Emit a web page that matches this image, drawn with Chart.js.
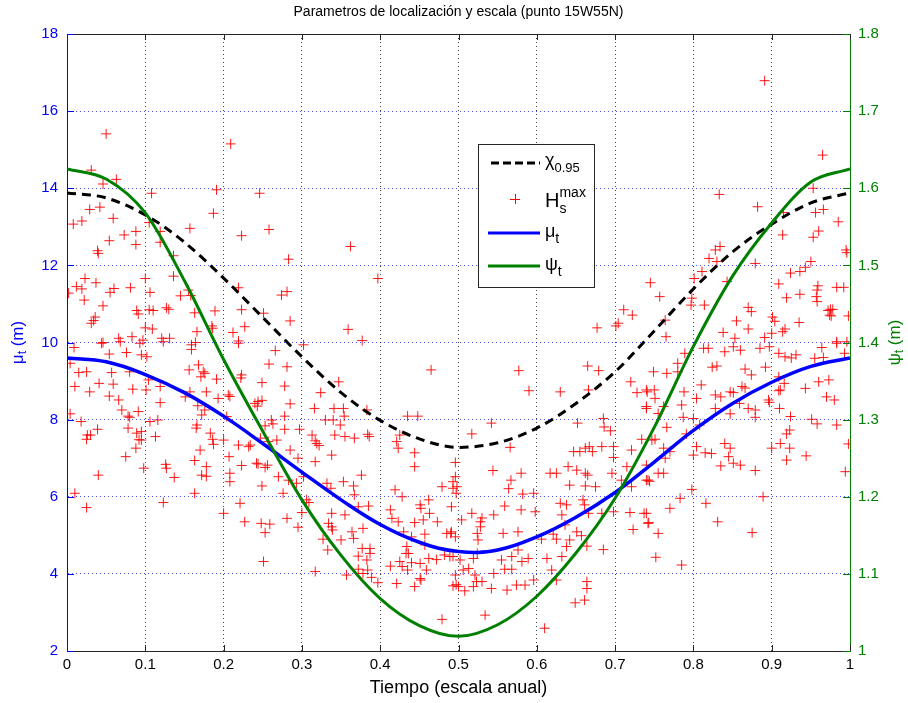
<!DOCTYPE html>
<html>
<head>
<meta charset="utf-8">
<script src="https://cdn.jsdelivr.net/npm/chart.js@4"></script>
<style>
  body { margin: 0; background: #fff; }
</style>
</head>
<body>
<canvas id="grafico" width="908" height="703"></canvas>
<script>
// ========== DATOS ==========

// eje temporal de las curvas (escala anual)
const tiempo = [0, 0.05, 0.1, 0.15, 0.2, 0.25, 0.3, 0.35, 0.4, 0.45, 0.5,
                0.55, 0.6, 0.65, 0.7, 0.75, 0.8, 0.85, 0.9, 0.95, 1];

// cuantil 0.95 (m)
const chi095 = [13.88, 13.75, 13.31, 12.60, 11.67, 10.65, 9.63, 8.70, 7.98, 7.50, 7.28,
                7.40, 7.78, 8.42, 9.24, 10.30, 11.39, 12.35, 13.07, 13.62, 13.88];

// parametro de localizacion mu_t (m)
const muT = [9.60, 9.50, 9.17, 8.70, 8.09, 7.38, 6.64, 5.92, 5.28, 4.82, 4.58,
             4.62, 4.96, 5.47, 6.11, 6.90, 7.72, 8.42, 8.97, 9.38, 9.60];

// parametro de escala psi_t (m)
const psiT = [1.625, 1.612, 1.568, 1.480, 1.378, 1.285, 1.196, 1.124, 1.068, 1.033, 1.019,
              1.034, 1.071, 1.127, 1.198, 1.290, 1.395, 1.486, 1.555, 1.608, 1.625];

// maximos mensuales Hs (tiempo, altura)
const hsMax = [
  [0.050,15.41],[0.209,15.15],[0.031,14.47],[0.063,14.23],[0.046,14.11],[0.108,13.87],[0.191,13.96],[0.246,13.87],
  [0.029,13.45],[0.042,13.51],[0.187,13.35],[0.008,13.07],[0.019,13.15],[0.059,13.22],[0.105,13.11],[0.157,12.96],
  [0.223,12.77],[0.054,12.64],[0.073,12.79],[0.088,12.88],[0.088,12.54],[0.119,12.88],[0.119,12.60],[0.039,12.38],
  [0.040,12.31],[0.136,12.25],[0.023,11.66],[0.037,11.55],[0.100,11.66],[0.136,11.72],[0.012,11.45],[0.019,11.39],
  [0.002,11.28],[0.022,11.10],[0.055,11.30],[0.060,11.40],[0.081,11.42],[0.106,11.30],[0.145,11.21],[0.155,11.36],
  [0.158,11.22],[0.219,11.42],[0.046,10.95],[0.089,10.83],[0.091,10.74],[0.105,10.85],[0.110,10.83],[0.127,10.90],
  [0.130,10.86],[0.163,10.77],[0.189,10.82],[0.223,10.85],[0.036,10.66],[0.034,10.57],[0.031,10.50],[0.100,10.38],
  [0.109,10.35],[0.166,10.28],[0.185,10.43],[0.186,10.37],[0.212,10.26],[0.227,10.41],[0.046,10.00],[0.066,10.11],
  [0.083,10.15],[0.097,10.06],[0.121,10.11],[0.131,10.11],[0.164,10.00],[0.219,10.04],
  [0.258,12.93],[0.362,12.49],[0.283,12.16],[0.397,11.66],[0.281,11.32],[0.274,11.23],[0.251,10.76],[0.285,10.56],
  [0.359,10.34],[0.377,10.05],
  [0.677,10.38],[0.701,10.43],[0.704,10.50],[0.711,10.85],[0.722,10.71],[0.745,11.55],
  [0.891,16.79],[0.965,14.86],[0.833,13.84],[0.882,13.52],[0.915,13.37],[0.956,13.37],[0.966,13.45],[0.953,14.00],
  [0.985,13.13],[0.914,12.79],[0.953,12.73],[0.960,12.89],[0.834,12.49],[0.828,12.40],[0.820,12.18],[0.830,12.10],
  [0.879,12.05],[0.995,12.40],[0.996,12.33],[0.950,12.10],[0.943,11.95],[0.936,11.84],[0.924,11.80],[0.811,11.84],
  [0.801,11.66],[0.843,11.58],[0.909,11.52],[0.959,11.47],[0.958,11.36],[0.983,11.43],[0.992,11.43],[0.757,11.19],
  [0.798,11.15],[0.919,11.16],[0.936,11.25],[0.957,11.19],[0.958,11.06],[0.797,10.97],[0.814,10.97],[0.870,10.91],
  [0.874,10.80],[0.972,10.83],[0.975,10.86],[0.978,10.86],[0.974,10.71],[0.976,10.69],[0.998,10.69],[0.764,10.58],
  [0.855,10.56],[0.901,10.66],[0.904,10.55],[0.935,10.52],[0.870,10.35],[0.838,10.26],[0.765,10.15],[0.900,10.24],
  [0.914,10.28],[0.917,10.35],[0.853,10.11],[0.891,10.13],[0.983,10.02],[0.996,10.02],
  [0.009,9.87],[0.044,9.98],[0.068,10.02],[0.093,9.98],[0.095,9.68],[0.054,9.70],[0.076,9.74],[0.102,9.63],
  [0.123,10.02],[0.159,9.94],[0.159,9.82],[0.219,9.98],[0.004,9.46],[0.015,9.22],[0.025,9.24],[0.057,9.22],
  [0.080,9.24],[0.041,8.94],[0.059,8.92],[0.010,8.86],[0.029,8.72],[0.054,8.61],[0.066,8.51],[0.084,8.79],
  [0.101,8.77],[0.119,8.86],[0.104,9.03],[0.119,8.44],[0.070,8.25],[0.078,8.09],[0.080,8.06],[0.091,8.21],
  [0.004,8.15],[0.018,7.95],[0.039,7.75],[0.026,7.60],[0.025,7.49],[0.030,7.60],[0.078,7.78],[0.089,7.65],
  [0.095,7.69],[0.095,7.47],[0.092,7.48],[0.088,7.26],[0.075,7.04],[0.106,7.95],[0.116,7.99],[0.113,7.56],
  [0.040,6.56],[0.098,6.74],[0.126,6.84],[0.127,6.74],[0.137,6.50],[0.010,6.09],[0.025,5.72],[0.123,5.85],
  [0.163,6.09],[0.156,9.29],[0.168,9.42],[0.174,9.24],[0.176,9.20],[0.171,9.11],[0.191,9.05],[0.178,8.72],
  [0.151,8.59],[0.157,8.72],[0.167,8.36],[0.176,8.25],[0.172,8.12],[0.166,7.86],[0.165,7.78],[0.193,8.55],
  [0.206,8.64],[0.208,8.60],[0.223,9.16],[0.222,9.08],[0.204,8.08],[0.183,7.65],[0.186,7.49],[0.187,7.36],
  [0.200,7.47],[0.170,7.21],[0.163,6.94],[0.178,6.78],[0.172,6.56],[0.178,6.53],[0.207,7.04],[0.208,6.61],
  [0.208,6.39],[0.223,6.81],[0.221,5.83],[0.200,5.57],[0.227,5.35],[0.219,7.34],[0.232,7.30],[0.234,7.34],
  [0.242,6.87],[0.240,8.42],[0.243,8.35],
  [0.302,9.94],[0.266,9.79],[0.258,9.44],[0.281,9.37],[0.465,9.29],[0.249,8.96],[0.278,8.87],[0.347,8.98],
  [0.324,8.70],[0.244,8.47],[0.249,8.50],[0.285,8.41],[0.316,8.29],[0.341,8.29],[0.353,8.29],[0.383,8.25],
  [0.278,8.09],[0.330,7.99],[0.340,7.99],[0.354,8.09],[0.435,8.09],[0.448,8.09],[0.261,7.99],[0.263,7.89],
  [0.253,7.84],[0.349,7.86],[0.278,7.75],[0.297,7.75],[0.313,7.60],[0.342,7.60],[0.355,7.56],[0.367,7.52],
  [0.384,7.62],[0.386,7.56],[0.425,7.60],[0.247,7.52],[0.257,7.43],[0.268,7.47],[0.319,7.38],[0.322,7.33],
  [0.317,7.45],[0.421,7.43],[0.423,7.26],[0.285,7.21],[0.338,7.08],[0.444,7.14],[0.295,7.00],[0.317,6.91],
  [0.444,6.78],[0.244,6.85],[0.256,6.82],[0.253,6.76],[0.376,6.56],[0.270,6.52],[0.283,6.43],[0.293,6.35],
  [0.302,6.52],[0.249,6.28],[0.276,6.09],[0.332,6.35],[0.337,6.22],[0.353,6.39],[0.366,6.28],[0.367,6.05],
  [0.419,6.18],[0.428,6.00],[0.479,6.26],[0.493,6.39],[0.493,6.22],[0.306,5.92],[0.309,5.85],[0.372,5.74],
  [0.385,5.76],[0.413,5.66],[0.300,5.59],[0.338,5.57],[0.355,5.53],[0.281,5.44],[0.415,5.44],[0.423,5.35],
  [0.451,5.79],[0.452,5.70],[0.455,5.40],[0.462,5.92],[0.463,5.57],[0.473,5.35],[0.444,5.33],[0.248,5.31],
  [0.259,5.29],[0.253,5.07],[0.295,5.21],[0.334,5.31],[0.338,5.22],[0.339,5.14],[0.364,5.09],[0.378,5.18],
  [0.366,4.92],[0.350,4.88],[0.327,4.90],[0.430,5.09],[0.440,4.96],[0.457,5.03],[0.485,5.05],[0.490,5.05],
  [0.333,4.62],[0.377,4.66],[0.387,4.66],[0.372,4.46],[0.387,4.53],[0.383,4.36],[0.434,4.71],[0.436,4.53],
  [0.433,4.53],[0.457,4.75],[0.462,4.40],[0.472,4.37],[0.482,4.49],[0.489,4.45],[0.251,4.32],[0.413,4.20],
  [0.425,4.32],[0.428,4.19],[0.440,4.29],[0.451,4.27],[0.459,4.10],[0.435,4.10],[0.317,4.06],[0.357,3.97],
  [0.372,4.12],[0.378,4.01],[0.384,4.10],[0.389,3.91],[0.397,3.77],[0.421,3.75],[0.444,3.67],[0.451,3.88],
  [0.452,3.84],[0.493,3.69],[0.479,2.82],
  [0.577,9.27],[0.590,8.75],[0.630,8.72],[0.665,9.39],[0.679,9.27],[0.666,8.77],[0.720,8.98],[0.728,8.70],
  [0.741,8.72],[0.740,8.34],[0.517,7.63],[0.542,7.91],[0.566,7.28],[0.652,7.91],[0.685,8.03],[0.686,7.81],
  [0.694,7.71],[0.734,7.49],[0.647,7.17],[0.655,7.17],[0.662,7.26],[0.667,7.30],[0.671,7.17],[0.683,7.30],
  [0.698,7.30],[0.698,7.02],[0.715,6.78],[0.721,7.21],[0.496,6.89],[0.544,6.68],[0.580,6.61],[0.567,6.43],
  [0.617,6.61],[0.625,6.61],[0.640,6.78],[0.651,6.69],[0.662,6.61],[0.665,6.56],[0.696,6.61],[0.642,6.30],
  [0.662,6.28],[0.675,6.26],[0.708,6.43],[0.721,6.26],[0.740,6.43],[0.496,6.52],[0.498,6.26],[0.497,6.09],
  [0.564,6.21],[0.582,6.07],[0.596,6.09],[0.559,5.76],[0.580,5.66],[0.598,5.61],[0.545,5.53],[0.517,5.57],
  [0.528,5.35],[0.530,5.45],[0.491,5.74],[0.504,5.40],[0.496,4.96],[0.491,5.09],[0.630,5.83],[0.638,5.79],
  [0.632,5.53],[0.636,5.27],[0.659,5.92],[0.661,5.79],[0.666,5.57],[0.683,5.57],[0.698,5.61],[0.719,5.59],
  [0.737,5.57],[0.743,5.33],[0.723,5.15],[0.528,5.22],[0.524,5.05],[0.525,4.88],[0.557,5.05],[0.576,5.09],
  [0.606,4.90],[0.621,5.03],[0.625,4.90],[0.642,4.88],[0.651,5.09],[0.657,4.99],[0.664,4.72],[0.685,4.63],
  [0.638,4.71],[0.613,4.40],[0.632,4.45],[0.619,4.10],[0.625,3.84],[0.493,4.45],[0.502,4.36],[0.506,4.10],
  [0.496,3.97],[0.500,3.67],[0.497,3.72],[0.508,3.56],[0.519,4.40],[0.524,4.53],[0.513,4.14],[0.521,3.97],
  [0.523,3.80],[0.530,3.80],[0.519,3.67],[0.545,4.01],[0.542,3.62],[0.555,4.36],[0.559,4.12],[0.562,3.58],
  [0.568,4.45],[0.568,4.12],[0.574,3.71],[0.576,4.62],[0.581,4.32],[0.585,3.71],[0.589,4.40],[0.596,3.84],
  [0.534,2.93],[0.649,3.25],[0.661,3.32],[0.664,3.80],[0.664,3.62],[0.610,2.59],
  [0.789,9.72],[0.813,9.85],[0.819,9.85],[0.840,9.76],[0.851,9.89],[0.860,9.80],[0.885,9.85],[0.897,9.89],
  [0.909,9.72],[0.917,9.63],[0.925,9.60],[0.931,9.68],[0.964,9.87],[0.983,9.98],[0.993,9.72],[0.955,9.59],
  [0.966,9.61],[0.780,9.46],[0.780,9.24],[0.749,9.24],[0.766,9.20],[0.830,9.39],[0.824,9.36],[0.866,9.31],
  [0.874,9.16],[0.892,9.36],[0.916,8.94],[0.909,9.11],[0.911,8.77],[0.909,8.75],[0.943,8.81],[0.960,8.98],
  [0.973,9.03],[0.970,8.59],[0.980,8.51],[0.740,8.77],[0.750,8.77],[0.751,8.55],[0.788,8.72],[0.810,8.90],
  [0.804,8.55],[0.828,8.64],[0.835,8.59],[0.847,8.72],[0.851,8.70],[0.862,8.86],[0.866,8.82],[0.859,8.42],
  [0.870,8.29],[0.879,8.25],[0.896,8.51],[0.897,8.45],[0.910,8.29],[0.828,8.29],[0.847,8.15],[0.785,8.38],
  [0.740,8.29],[0.762,8.34],[0.755,8.16],[0.800,8.03],[0.787,8.06],[0.808,7.86],[0.766,7.80],[0.879,8.06],
  [0.924,8.08],[0.951,8.01],[0.958,7.89],[0.983,7.86],[0.923,7.73],[0.919,7.63],[0.791,7.63],[0.747,7.47],
  [0.751,7.49],[0.762,7.26],[0.770,7.17],[0.764,7.00],[0.804,7.30],[0.800,7.08],[0.815,7.14],[0.823,7.12],
  [0.840,7.38],[0.847,7.26],[0.845,7.04],[0.851,6.87],[0.860,6.82],[0.835,6.80],[0.879,6.68],[0.900,7.26],
  [0.911,7.38],[0.923,7.26],[0.919,6.95],[0.944,7.06],[0.998,7.37],[0.994,6.65],[0.740,6.82],[0.755,6.61],
  [0.762,6.61],[0.742,6.43],[0.744,6.40],[0.798,6.19],[0.783,5.96],[0.816,5.83],[0.770,5.70],[0.740,5.57],
  [0.742,5.31],[0.755,5.05],[0.831,5.35],[0.889,6.00],[0.875,5.07],[0.752,4.43],[0.785,4.23]
];

const FUENTE = '"Liberation Sans", Arial, Helvetica, sans-serif';
const AZUL = '#0000ff';
const VERDE = '#008000';
const ROJO = '#ff0000';

function serie(xs, ys) {
    return xs.map((x, i) => ({ x: x, y: ys[i] }));
}

// texto con subindices / superindices: partes = [[texto, tamaño, desplazamientoY, sinAvance], ...]
function textoCompuesto(ctx, partes, x, y, medir) {
    let ancho = 0;
    partes.forEach(p => {
        ctx.font = p[1] + 'px ' + FUENTE;
        if (!medir) ctx.fillText(p[0], x + ancho, y + (p[2] || 0));
        if (!p[3]) ancho += ctx.measureText(p[0]).width;
    });
    return ancho;
}

// ticks hacia dentro, borde superior, etiquetas de ejes y leyenda
const decoracionPlugin = {
    id: 'decoracion',
    afterDatasetsDraw(chart) {
        const ctx = chart.ctx;
        const a = chart.chartArea;
        const sx = chart.scales.x, sy = chart.scales.y, sy2 = chart.scales.y2;
        ctx.save();
        ctx.lineWidth = 1;

        ctx.strokeStyle = '#262626';
        ctx.beginPath();
        ctx.moveTo(a.left, a.top + 0.5);
        ctx.lineTo(a.right, a.top + 0.5);
        sx.ticks.forEach(t => {
            const px = Math.round(sx.getPixelForValue(t.value)) + 0.5;
            ctx.moveTo(px, a.bottom); ctx.lineTo(px, a.bottom - 6);
            ctx.moveTo(px, a.top); ctx.lineTo(px, a.top + 6);
        });
        ctx.stroke();

        ctx.strokeStyle = AZUL;
        ctx.beginPath();
        sy.ticks.forEach(t => {
            const py = Math.round(sy.getPixelForValue(t.value)) + 0.5;
            ctx.moveTo(a.left, py); ctx.lineTo(a.left + 7, py);
        });
        ctx.stroke();

        ctx.strokeStyle = VERDE;
        ctx.beginPath();
        sy2.ticks.forEach(t => {
            const py = Math.round(sy2.getPixelForValue(t.value)) + 0.5;
            ctx.moveTo(a.right, py); ctx.lineTo(a.right - 7, py);
        });
        ctx.stroke();

        // etiquetas de los ejes Y (giradas)
        ctx.textBaseline = 'middle';
        const etiquetaY = (partes, cx, color) => {
            ctx.save();
            ctx.translate(cx, (a.top + a.bottom) / 2);
            ctx.rotate(-Math.PI / 2);
            ctx.fillStyle = color;
            const w = textoCompuesto(ctx, partes, 0, 0, true);
            textoCompuesto(ctx, partes, -w / 2, 0);
            ctx.restore();
        };
        etiquetaY([['μ', 17], ['t', 12, 5], [' (m)', 17]], 18, AZUL);
        etiquetaY([['ψ', 17], ['t', 12, 5], [' (m)', 17]], 895, VERDE);

        // leyenda
        const bx = a.left + 411, by = a.top + 110, bw = 116, bh = 143;
        ctx.fillStyle = '#fff';
        ctx.fillRect(bx, by, bw, bh);
        ctx.strokeStyle = '#262626';
        ctx.strokeRect(bx + 0.5, by + 0.5, bw, bh);

        const filas = [by + 19, by + 55, by + 89, by + 122];
        ctx.lineWidth = 3;
        ctx.strokeStyle = '#000';
        ctx.setLineDash([8, 4]);
        ctx.beginPath(); ctx.moveTo(bx + 13, filas[0]); ctx.lineTo(bx + 62, filas[0]); ctx.stroke();
        ctx.setLineDash([]);
        ctx.strokeStyle = AZUL;
        ctx.beginPath(); ctx.moveTo(bx + 10, filas[2]); ctx.lineTo(bx + 62, filas[2]); ctx.stroke();
        ctx.strokeStyle = VERDE;
        ctx.beginPath(); ctx.moveTo(bx + 10, filas[3]); ctx.lineTo(bx + 62, filas[3]); ctx.stroke();
        ctx.lineWidth = 1;
        ctx.strokeStyle = ROJO;
        ctx.beginPath();
        ctx.moveTo(bx + 32, filas[1] + 0.5); ctx.lineTo(bx + 42, filas[1] + 0.5);
        ctx.moveTo(bx + 37.5, filas[1] - 5); ctx.lineTo(bx + 37.5, filas[1] + 5);
        ctx.stroke();

        ctx.fillStyle = '#000';
        ctx.textBaseline = 'alphabetic';
        const tx = bx + 67;
        textoCompuesto(ctx, [['χ', 18, 0], ['0.95', 13, 6]], tx, filas[0] + 3);
        textoCompuesto(ctx, [['H', 20, 0], ['max', 14, -10, true], ['s', 14, 6]], tx, filas[1] + 8);
        textoCompuesto(ctx, [['μ', 18, 0], ['t', 14, 6]], tx, filas[2] + 4);
        textoCompuesto(ctx, [['ψ', 18, 0], ['t', 14, 6]], tx, filas[3] + 4);
        ctx.restore();
    }
};

// ========== GRÁFICO ==========
const ctx = document.getElementById('grafico').getContext('2d');

const grafico = new Chart(ctx, {
    type: 'scatter',
    data: {
        datasets: [{
            label: 'ψt',
            data: serie(tiempo, psiT),
            yAxisID: 'y2',
            showLine: true,
            borderColor: VERDE,
            borderWidth: 3,
            pointRadius: 0,
            cubicInterpolationMode: 'monotone',
            order: 0
        }, {
            label: 'μt',
            data: serie(tiempo, muT),
            yAxisID: 'y',
            showLine: true,
            borderColor: AZUL,
            borderWidth: 3.5,
            pointRadius: 0,
            tension: 0.4,
            order: 1
        }, {
            label: 'χ0.95',
            data: serie(tiempo, chi095),
            yAxisID: 'y',
            showLine: true,
            borderColor: '#000',
            borderWidth: 3,
            borderDash: [9, 6],
            pointRadius: 0,
            cubicInterpolationMode: 'monotone',
            order: 2
        }, {
            label: 'Hs max',
            data: hsMax.map(p => ({ x: p[0], y: p[1] })),
            yAxisID: 'y',
            pointStyle: 'cross',
            pointRadius: 5,
            pointBorderWidth: 1,
            borderColor: 'rgba(255, 0, 0, 0.9)',
            backgroundColor: 'rgba(255, 0, 0, 0.9)',
            order: 3
        }]
    },
    options: {
        responsive: false,
        animation: false,
        devicePixelRatio: 1,
        layout: { padding: 0 },
        plugins: {
            legend: { display: false },
            tooltip: { enabled: false },
            title: {
                display: true,
                fullSize: false,
                text: 'Parametros de localización y escala (punto 15W55N)',
                color: '#000',
                font: { family: FUENTE, size: 14, weight: 'normal' },
                padding: { top: 4, bottom: 13.2 }
            }
        },
        scales: {
            x: {
                type: 'linear',
                min: 0,
                max: 1,
                afterFit: s => { s.height = 52; },
                ticks: {
                    stepSize: 0.1,
                    color: '#000',
                    padding: 5,
                    font: { family: FUENTE, size: 15 },
                    callback: v => String(Math.round(v * 10) / 10)
                },
                grid: { color: 'rgba(0,0,0,0.75)', drawTicks: false },
                border: { color: '#262626', dash: [1, 3] },
                title: {
                    display: true,
                    text: 'Tiempo (escala anual)',
                    color: '#000',
                    font: { family: FUENTE, size: 18 },
                    padding: { top: 0 }
                }
            },
            y: {
                position: 'left',
                min: 2,
                max: 18,
                afterFit: s => { s.width = 67; },
                ticks: {
                    stepSize: 2,
                    color: AZUL,
                    padding: 9,
                    font: { family: FUENTE, size: 15 }
                },
                grid: { color: 'rgba(0,0,255,0.7)', drawTicks: false },
                border: { color: AZUL, dash: [1, 3] }
            },
            y2: {
                position: 'right',
                min: 1,
                max: 1.8,
                afterFit: s => { s.width = 58; },
                ticks: {
                    stepSize: 0.1,
                    color: VERDE,
                    padding: 8,
                    font: { family: FUENTE, size: 15 },
                    callback: v => String(Math.round(v * 10) / 10)
                },
                grid: { drawOnChartArea: false, drawTicks: false },
                border: { color: VERDE }
            }
        }
    },
    plugins: [decoracionPlugin]
});
</script>
</body>
</html>
